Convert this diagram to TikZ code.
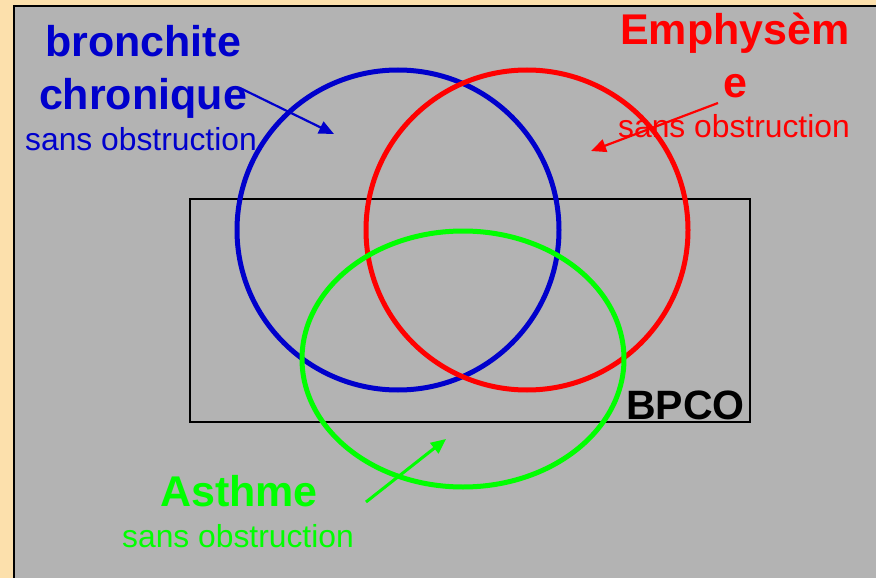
\documentclass[tikz,border=0pt]{standalone}
\usepackage{fontspec}
\setmainfont{Liberation Sans}
\usetikzlibrary{arrows.meta}

\definecolor{tan}{RGB}{252,224,172}
\definecolor{panelgrey}{RGB}{179,179,179}
\definecolor{bcblue}{RGB}{0,0,204}

\tikzset{
  bigtxt/.style={anchor=base, inner sep=0pt, font=\fontsize{43}{48}\selectfont\bfseries},
  smalltxt/.style={anchor=base, inner sep=0pt, font=\fontsize{31.8}{36}\selectfont},
  ring/.style={line width=5pt},
  pointer/.style={-{Triangle[length=15pt,width=13pt]}, line width=2.2pt}
}

\begin{document}
\begin{tikzpicture}[x=1pt,y=-1pt]

  \useasboundingbox (0,0) rectangle (876,578);

        % background and panel
  \fill[tan] (0,0) rectangle (876,578);
  \fill[panelgrey] (14,6) rectangle (876,578);
  \draw[line width=2pt] (14,578) -- (14,6) -- (876,6);

        % BPCO box
  \draw[line width=1.5pt] (190,199) rectangle (750,422);
  \node[bigtxt, font=\fontsize{41}{48}\selectfont\bfseries, anchor=base east] (bpco) at (745,419) {BPCO};

        % circles
  \draw[ring, bcblue] (398,230) ellipse (161 and 160);
  \draw[ring, red] (527,230) ellipse (161 and 160);
  \draw[ring, green] (463,359) ellipse (161 and 128);

        % labels
  \node[bigtxt, bcblue] (bron) at (143,57) {bronchite};
  \node[bigtxt, bcblue] (chron) at (143,110) {chronique};
  \node[smalltxt, bcblue] (bso) at (141,150) {sans obstruction};

  \node[bigtxt, red] (emph) at (735,45) {Emphysèm};
  \node[bigtxt, red] (emphe) at (735,97) {e};
  \node[smalltxt, red] (eso) at (734,137) {sans obstruction};

  \node[bigtxt, green] (asth) at (239,506) {Asthme};
  \node[smalltxt, green] (aso) at (238,547) {sans obstruction};

        % arrows
  \coordinate (b1) at (240,88);
  \coordinate (b2) at (334,134);
  \coordinate (r1) at (718,103);
  \coordinate (r2) at (591,151);
  \coordinate (g1) at (366,502);
  \coordinate (g2) at (446,439);
  \draw[pointer, bcblue] (b1) -- (b2);
  \draw[pointer, red] (r1) -- (r2);
  \draw[pointer, green, line width=3pt] (g1) -- (g2);

\end{tikzpicture}
\end{document}
